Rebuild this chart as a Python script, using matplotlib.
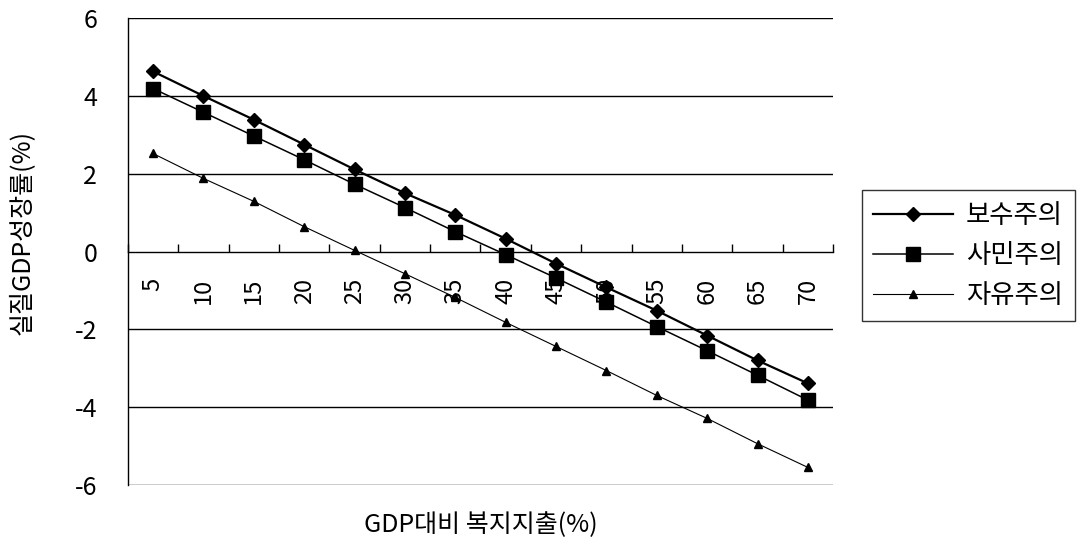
import numpy as np
import matplotlib.pyplot as plt

plt.rcParams['font.family'] = ['Noto Sans CJK KR', 'DejaVu Sans']
plt.rcParams['axes.unicode_minus'] = False

# GDP 대비 복지지출 (%)
welfare = ['5', '10', '15', '20', '25', '30', '35', '40', '45', '50', '55', '60', '65', '70']

# 실질 GDP 성장률 (%) by regime
conservative = [4.63, 4.00, 3.39, 2.75, 2.11, 1.50, 0.94, 0.33, -0.31, -0.92, -1.52, -2.16, -2.80, -3.39]
social_dem = [4.19, 3.58, 2.97, 2.36, 1.73, 1.13, 0.51, -0.08, -0.68, -1.30, -1.93, -2.55, -3.18, -3.82]
liberal = [2.52, 1.88, 1.29, 0.64, 0.03, -0.57, -1.18, -1.82, -2.44, -3.06, -3.70, -4.29, -4.94, -5.55]

fig = plt.figure(figsize=(10.92, 5.48), dpi=100)
ax = fig.add_axes([0.117, 0.115, 0.646, 0.852])

ax.plot(welfare, conservative, color='black', lw=1.6, marker='D', ms=7.5, label='보수주의')
ax.plot(welfare, social_dem, color='black', lw=1.1, marker='s', ms=10, label='사민주의')
ax.plot(welfare, liberal, color='black', lw=0.8, marker='^', ms=6, label='자유주의')

ax.set_xlim(-0.5, len(welfare) - 0.5)
ax.set_ylim(-6, 6)
ax.set_yticks([-6, -4, -2, 0, 2, 4, 6])

# horizontal grid lines, the x axis itself sits on zero
for y in [-6, -4, -2, 2, 4, 6]:
    ax.axhline(y, color='black', lw=1.0, zorder=0)

for side in ['top', 'right']:
    ax.spines[side].set_visible(False)
ax.spines['bottom'].set_position(('data', 0))
ax.spines['bottom'].set_linewidth(1.0)
ax.spines['left'].set_linewidth(1.0)

ax.set_xticks(np.arange(-0.5, len(welfare), 1.0), minor=True)
ax.tick_params(axis='x', which='minor', direction='in', length=6, width=1)
ax.tick_params(axis='x', which='major', length=0, pad=19, labelsize=17, labelrotation=90)
ax.tick_params(axis='y', length=0, pad=22, labelsize=18)
for lbl in ax.get_xticklabels():
    lbl.set_verticalalignment('top')

ax.set_xlabel('GDP대비 복지지출(%)', fontsize=18)
ax.xaxis.set_label_coords(0.5, -0.058)
ax.set_ylabel('실질GDP성장률(%)', fontsize=18)
ax.yaxis.set_label_coords(-0.13, 0.54)

leg = fig.legend(loc='upper left', bbox_to_anchor=(0.789, 0.653), borderaxespad=0,
                 fontsize=19, handlelength=3.0, handletextpad=0.5, labelspacing=0.5,
                 borderpad=0.45, frameon=True, fancybox=False)
leg.get_frame().set_edgecolor('black')
leg.get_frame().set_linewidth(1.0)

fig.savefig('out.png', dpi=100)
